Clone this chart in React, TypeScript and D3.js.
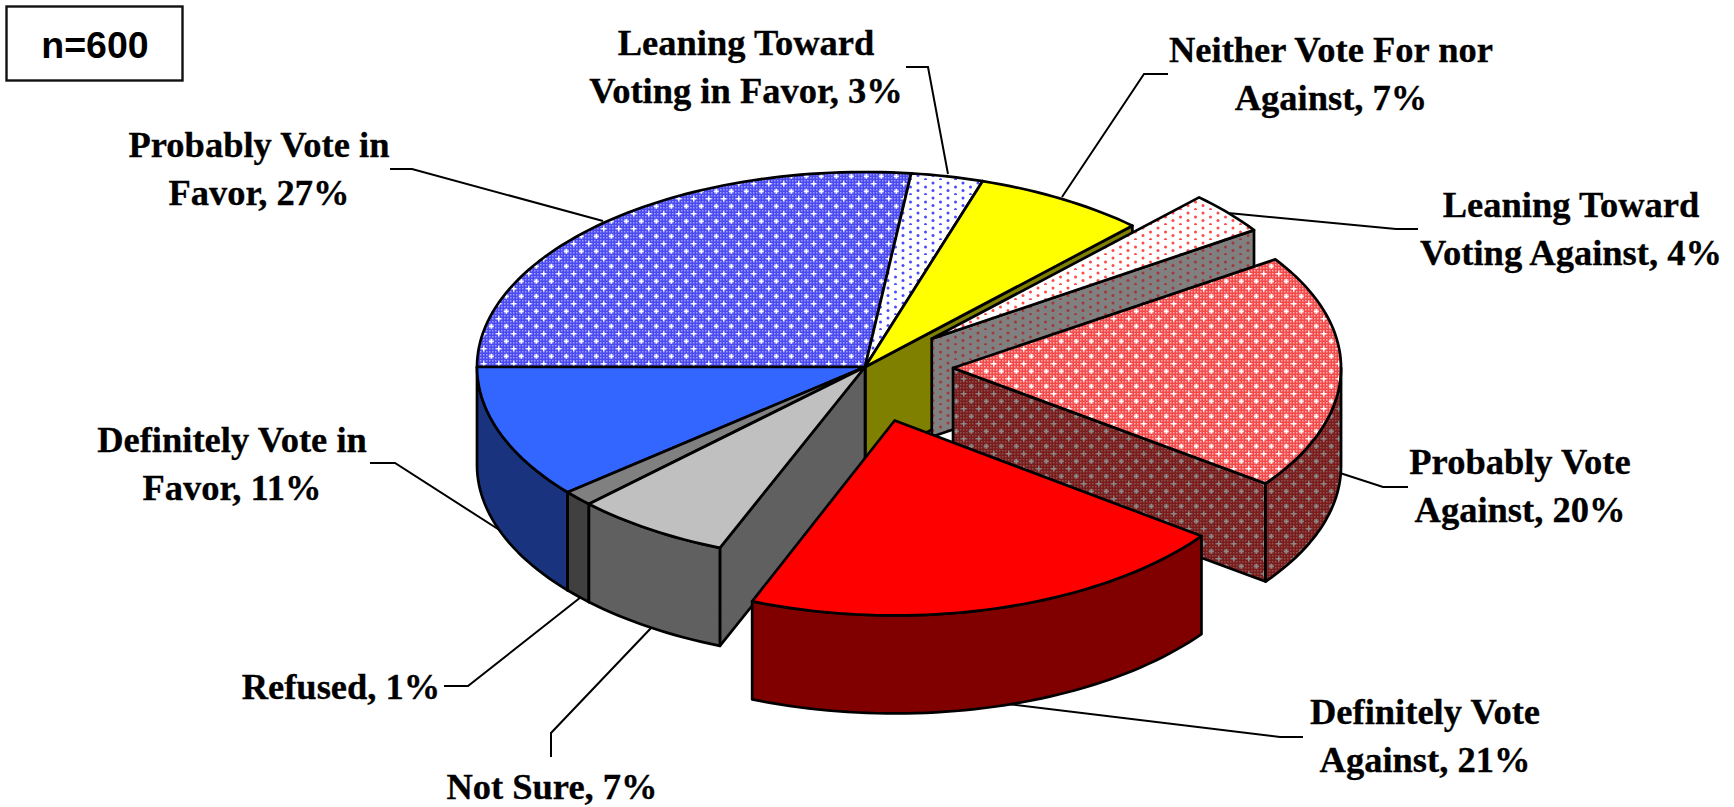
import React from 'react';
import * as d3 from 'd3';

// survey shares, clockwise from 9 o'clock (decimals)
const categories = [
  'Probably Vote in Favor',
  'Leaning Toward Voting in Favor',
  'Neither Vote For nor Against',
  'Leaning Toward Voting Against',
  'Probably Vote Against',
  'Definitely Vote Against',
  'Not Sure',
  'Refused',
  'Definitely Vote in Favor',
];
const shares = [26.9, 3.0, 7.2, 3.5, 19.5, 21.0, 6.5, 1.3, 11.1];

const labelLines = [
  ['Probably Vote in', 'Favor, {p}'],
  ['Leaning Toward', 'Voting in Favor, {p}'],
  ['Neither Vote For nor', 'Against, {p}'],
  ['Leaning Toward', 'Voting Against, {p}'],
  ['Probably Vote', 'Against, {p}'],
  ['Definitely Vote', 'Against, {p}'],
  ['Not Sure, {p}'],
  ['Refused, {p}'],
  ['Definitely Vote in', 'Favor, {p}'],
];

const sampleSize = 'n=600';

// layout of the pie
const width = 1734;
const height = 807;
const cx = 865;
const cy = 367;
const depth = 98;
const radiusX = [388, 388, 388, 388, 388, 381, 388, 388, 388];
const radiusY = [195, 195, 195, 195, 195, 195, 195, 195, 195];
const explode = [0, 0, 0, 0.225, 0.227, 0.285, 0, 0, 0];
// back to front
const drawOrder = [0, 1, 2, 3, 4, 8, 7, 6, 5];

const topFill = ['url(#blueCheck)', 'url(#blueDots)', '#ffff00', 'url(#redDots)', 'url(#redCheck)', '#ff0000', '#c0c0c0', '#808080', '#3366ff'];
const sideFill = ['#1a337f', '#808080', '#808000', 'url(#greyDots)', 'url(#darkCheck)', '#800000', '#606060', '#404040', '#1a337f'];

// label anchor: centre x and first baseline
const labelX = [259, 746, 1331, 1571, 1520, 1425, 552, 341, 232];
const labelY = [157, 55, 62, 217, 474, 724, 799, 699, 452];
const lineGap = 48;

// leader lines, label end first
const leaders: [number, number][][] = [
  [[390, 169], [412, 169], [603, 221]],
  [[906, 67], [928, 67], [948, 174]],
  [[1168, 74], [1144, 74], [1062, 197]],
  [[1418, 229], [1396, 229], [1228, 213]],
  [[1408, 487], [1383, 487], [1340, 473]],
  [[1303, 737], [1280, 737], [1000, 703]],
  [[551, 757], [551, 733], [652, 627]],
  [[444, 686], [468, 686], [581, 597]],
  [[370, 463], [395, 463], [501, 531]],
];

const toRad = Math.PI / 180;
const pie = d3.pie<number>().sort(null).startAngle(-Math.PI / 2).endAngle((3 * Math.PI) / 2);
const line = d3.line<[number, number]>();

const arcPoints = (x0: number, y0: number, rx: number, ry: number, a0: number, a1: number, dy = 0) => {
  const steps = Math.max(2, Math.ceil(Math.abs(a1 - a0) / 1.5));
  return d3.range(steps + 1).map((i) => {
    const a = (a0 + ((a1 - a0) * i) / steps) * toRad;
    return [x0 + rx * Math.sin(a), y0 - ry * Math.cos(a) + dy] as [number, number];
  });
};

const closed = (pts: [number, number][]) => line(pts) + 'Z';

const crossPath = (x: number, y: number) => `M${x - 2.5} ${y - 0.75}h5v1.5h-5zM${x - 0.75} ${y - 2.5}h1.5v5h-1.5z`;

const Fine = ({ id, base, light }: { id: string; base: string; light: string }) => (
  <pattern id={id} width={3} height={3} patternUnits="userSpaceOnUse">
    <rect width={3} height={3} fill={base} />
    <rect width={1.5} height={1.5} fill={light} />
  </pattern>
);

const Check = ({ id, fine, spot }: { id: string; fine: string; spot: string }) => (
  <pattern id={id} width={15} height={15} patternUnits="userSpaceOnUse">
    <rect width={15} height={15} fill={`url(#${fine})`} />
    <path d={crossPath(3.75, 3.75) + crossPath(11.25, 11.25)} fill={spot} />
  </pattern>
);

const Dots = ({ id, base, dot }: { id: string; base: string; dot: string }) => (
  <pattern id={id} width={15} height={15} patternUnits="userSpaceOnUse">
    <rect width={15} height={15} fill={base} />
    {[[3, 3], [3, 10.5], [10.5, 7], [10.5, 14.5]].map(([x, y], i) => (
      <circle key={i} cx={x} cy={y} r={1.5} fill={dot} />
    ))}
  </pattern>
);

const App = () => {
  const arcs = pie(shares);

  return (
    <svg width={width} height={height} style={{ position: 'absolute', left: 0, top: 0, background: '#fff' }}>
      <defs>
        <Fine id="blueFine" base="#4a4af0" light="#9c9cff" />
        <Fine id="redFine" base="#f24a4a" light="#ffacac" />
        <Fine id="darkFine" base="#7a1c1c" light="#8a5252" />
        <Check id="blueCheck" fine="blueFine" spot="#ffffff" />
        <Check id="redCheck" fine="redFine" spot="#ffffff" />
        <Check id="darkCheck" fine="darkFine" spot="#8c8c8c" />
        <Dots id="blueDots" base="#ffffff" dot="#4a4aff" />
        <Dots id="redDots" base="#ffffff" dot="#ff4a4a" />
        <Dots id="greyDots" base="#808080" dot="#a03838" />
      </defs>

      <rect x={6.5} y={6.5} width={176} height={74} fill="#fff" stroke="#111" strokeWidth={2.4} />
      <text x={95} y={58} textAnchor="middle" fontFamily="Liberation Sans" fontWeight="bold" fontSize={37.5}>
        {sampleSize}
      </text>

      {leaders.map((pts, i) => (
        <path key={categories[i]} d={line(pts) ?? ''} fill="none" stroke="#000" strokeWidth={2} />
      ))}

      {drawOrder.map((i) => {
        const d = arcs[i];
        const a0 = d.startAngle / toRad;
        const a1 = d.endAngle / toRad;
        const mid = ((a0 + a1) / 2) * toRad;
        const rx = radiusX[i];
        const ry = radiusY[i];
        const x0 = cx + explode[i] * rx * Math.sin(mid);
        const y0 = cy - explode[i] * ry * Math.cos(mid);

        const top = arcPoints(x0, y0, rx, ry, a0, a1);
        const walls: [number, number][][] = [];
        // cut faces that turn toward the viewer
        if (a1 > 0 && a1 < 180) walls.push(arcPoints(x0, y0, rx, ry, a1, a1));
        if (a0 > 180 && a0 < 360) walls.push(arcPoints(x0, y0, rx, ry, a0, a0));

        const rimFrom = Math.max(a0, 90);
        const rimTo = Math.min(a1, 270);
        const hasRim = rimTo > rimFrom;

        return (
          <g key={categories[i]} stroke="#000" strokeWidth={2.7} strokeLinejoin="round">
            {walls.map((w, j) => {
              const edge = w[0];
              return (
                <path
                  key={j}
                  d={closed([[x0, y0], edge, [edge[0], edge[1] + depth], [x0, y0 + depth]])}
                  fill={sideFill[i]}
                />
              );
            })}
            {hasRim && (
              <path
                d={closed([
                  ...arcPoints(x0, y0, rx, ry, rimFrom, rimTo),
                  ...arcPoints(x0, y0, rx, ry, rimTo, rimFrom, depth),
                ])}
                fill={sideFill[i]}
              />
            )}
            <path d={closed([[x0, y0], ...top])} fill={topFill[i]} />
          </g>
        );
      })}

      {labelLines.map((lines, i) => (
        <text
          key={categories[i]}
          fontFamily="Liberation Serif"
          fontWeight="bold"
          fontSize={36.5}
          textAnchor="middle"
          fill="#000"
          stroke="#000"
          strokeWidth={0.3}
        >
          {lines.map((t, j) => (
            <tspan key={j} x={labelX[i]} y={labelY[i] + j * lineGap}>
              {t.replace('{p}', `${Math.round(shares[i])}%`)}
            </tspan>
          ))}
        </text>
      ))}
    </svg>
  );
};

export default App;
